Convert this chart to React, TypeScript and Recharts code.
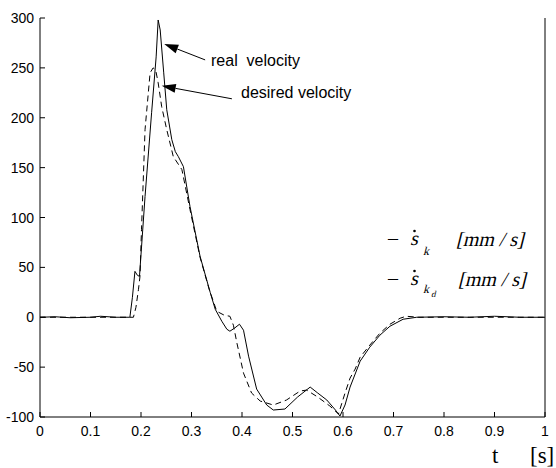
import React from 'react';
import { LineChart, Line, XAxis, YAxis, ReferenceLine } from 'recharts';

// measured (solid) velocity, t [s] / value [mm/s]
const realT = [0, 0.03, 0.06, 0.1, 0.12, 0.15, 0.178, 0.183, 0.188, 0.193, 0.197, 0.208, 0.221, 0.23, 0.234, 0.238, 0.245, 0.251, 0.261, 0.268, 0.274, 0.284, 0.297, 0.317, 0.337, 0.347, 0.36, 0.37, 0.376, 0.385, 0.395, 0.403, 0.413, 0.429, 0.449, 0.462, 0.485, 0.51, 0.535, 0.55, 0.568, 0.585, 0.594, 0.604, 0.614, 0.634, 0.653, 0.673, 0.693, 0.719, 0.746, 0.8, 0.85, 0.9, 0.95, 1.0];
const realV = [0, 0.5, -0.5, 0, 1, 0, 0, 20, 46, 42, 41, 121, 205, 261, 298, 288, 245, 208, 178, 166, 161, 151, 111, 61, 25, 8, -4, -12, -14, -11, -7, -13, -39, -72, -88, -93, -92, -80, -70, -76, -83, -93, -99, -88, -70, -44, -30, -18, -9, -2, 0, 0.5, 0, 1, 0, 0];

// desired (dashed) velocity
const desT = [0, 0.185, 0.19, 0.195, 0.198, 0.201, 0.208, 0.218, 0.224, 0.229, 0.234, 0.241, 0.251, 0.264, 0.281, 0.297, 0.317, 0.335, 0.35, 0.365, 0.376, 0.383, 0.39, 0.403, 0.419, 0.436, 0.462, 0.488, 0.515, 0.528, 0.55, 0.574, 0.591, 0.604, 0.614, 0.624, 0.634, 0.653, 0.673, 0.693, 0.713, 0.725, 0.75, 1.0];
const desV = [0, 0, 10, 28, 41, 88, 188, 245, 250, 248, 235, 211, 188, 161, 148, 108, 60, 28, 6, 2, 1, -8, -26, -56, -76, -84, -88, -83, -74, -73, -80, -89, -97, -76, -61, -52, -40, -28, -16, -7, -1, 1, 0, 0];

const xTicks = [0, 0.1, 0.2, 0.3, 0.4, 0.5, 0.6, 0.7, 0.8, 0.9, 1];
const yTicks = [-100, -50, 0, 50, 100, 150, 200, 250, 300];

// annotation arrows: [from, tip] in data coordinates
const realArrow = [{ x: 0.327, y: 258 }, { x: 0.246, y: 274 }];
const desArrow = [{ x: 0.38, y: 219 }, { x: 0.241, y: 232 }];

const realData = realT.map((t, i) => ({ t, v: realV[i] }));
const desData = desT.map((t, i) => ({ t, v: desV[i] }));

const tickFont = { fontFamily: 'Arial, "Liberation Sans", sans-serif', fontSize: 14, fill: '#000' };
const serif = '"Liberation Serif", "DejaVu Serif", serif';

const BottomTick = (props: any) => {
  const { x, y, payload } = props;
  return (
    <g>
      <line x1={x} y1={y} x2={x} y2={y - 5} stroke="#000" />
      <text x={x} y={y + 19} textAnchor="middle" {...tickFont}>{String(payload.value)}</text>
    </g>
  );
};

const TopTick = (props: any) => {
  const { x, y } = props;
  return <line x1={x} y1={y} x2={x} y2={y + 5} stroke="#000" />;
};

const LeftTick = (props: any) => {
  const { x, y, payload } = props;
  return (
    <g>
      <line x1={x} y1={y} x2={x + 5} y2={y} stroke="#000" />
      <text x={x - 6} y={y + 5} textAnchor="end" {...tickFont}>{String(payload.value)}</text>
    </g>
  );
};

const RightTick = (props: any) => {
  const { x, y } = props;
  return <line x1={x} y1={y} x2={x - 5} y2={y} stroke="#000" />;
};

const Arrow = (props: any) => {
  const { x1, y1, x2, y2 } = props;
  const a = Math.atan2(y2 - y1, x2 - x1);
  const len = 14;
  const w = 4.5;
  const bx = x2 - len * Math.cos(a);
  const by = y2 - len * Math.sin(a);
  const px = -Math.sin(a) * w;
  const py = Math.cos(a) * w;
  return (
    <g>
      <line x1={x1} y1={y1} x2={bx} y2={by} stroke="#000" strokeWidth={1} />
      <polygon points={`${x2},${y2} ${bx + px},${by + py} ${bx - px},${by - py}`} fill="#000" />
    </g>
  );
};

// serif text slanted by hand (no italic serif face available)
const Slant = ({ x, y, size, children }: any) => (
  <g transform={`translate(${x},${y}) skewX(-14)`}>
    <text x={0} y={0} fontSize={size} style={{ fontFamily: serif }} fill="#000">{children}</text>
  </g>
);

const LegendRow = ({ y, d }: { y: number; d: boolean }) => (
  <g>
    <text x={388} y={y} fontSize={20} style={{ fontFamily: serif }} fill="#000">–</text>
    <Slant x={410} y={y} size={20}>s</Slant>
    <circle cx={414.5} cy={y - 14} r={1.3} fill="#000" />
    <Slant x={423} y={d ? y + 8 : y + 10} size={12}>k</Slant>
    {d && <Slant x={431} y={y + 12} size={9}>d</Slant>}
    <Slant x={d ? 458 : 456} y={y + 1} size={20}>[mm / s]</Slant>
  </g>
);

export default function App() {
  return (
    <div style={{ position: 'absolute', left: 0, top: 0, width: 556, height: 468, background: '#fff' }}>
      <LineChart width={556} height={468} data={realData} margin={{ top: 18, right: 10, bottom: 21, left: 0 }}>
        <XAxis
          dataKey="t"
          type="number"
          domain={[0, 1]}
          ticks={xTicks}
          height={30}
          tickSize={0}
          tickMargin={0}
          axisLine={{ stroke: '#000' }}
          tick={<BottomTick />}
          interval={0}
        />
        <XAxis
          xAxisId="top"
          orientation="top"
          dataKey="t"
          type="number"
          domain={[0, 1]}
          ticks={xTicks}
          height={0}
          tickSize={0}
          tickMargin={0}
          axisLine={{ stroke: '#000' }}
          tick={<TopTick />}
          interval={0}
        />
        <YAxis
          type="number"
          domain={[-100, 300]}
          ticks={yTicks}
          width={40}
          tickSize={0}
          tickMargin={0}
          axisLine={{ stroke: '#000' }}
          tick={<LeftTick />}
          interval={0}
          allowDataOverflow
        />
        <YAxis
          yAxisId="r"
          orientation="right"
          type="number"
          domain={[-100, 300]}
          ticks={yTicks}
          width={1}
          tickSize={0}
          tickMargin={0}
          axisLine={{ stroke: '#000' }}
          tick={<RightTick />}
          interval={0}
        />
        <Line
          data={desData}
          dataKey="v"
          type="linear"
          stroke="#000"
          strokeWidth={1}
          strokeDasharray="6 4"
          dot={false}
          isAnimationActive={false}
        />
        <Line
          data={realData}
          dataKey="v"
          type="linear"
          stroke="#000"
          strokeWidth={1}
          dot={false}
          isAnimationActive={false}
        />
        <ReferenceLine segment={realArrow} shape={<Arrow />} />
        <ReferenceLine segment={desArrow} shape={<Arrow />} />
      </LineChart>

      <svg width={556} height={468} style={{ position: 'absolute', left: 0, top: 0, pointerEvents: 'none' }}>
        <text x={211} y={66} fontFamily='Arial, "Liberation Sans", sans-serif' fontSize={16} fill="#000">real{'\u00a0\u00a0'}velocity</text>
        <text x={241} y={98} fontFamily='Arial, "Liberation Sans", sans-serif' fontSize={16} fill="#000">desired velocity</text>

        {/* legend */}
        <LegendRow y={245} d={false} />
        <LegendRow y={285} d={true} />

        <g style={{ fontFamily: serif }} fill="#000">
          <text x={492} y={463} fontSize={23}>t</text>
          <text x={530} y={463} fontSize={23}>[s]</text>
        </g>
      </svg>
    </div>
  );
}
